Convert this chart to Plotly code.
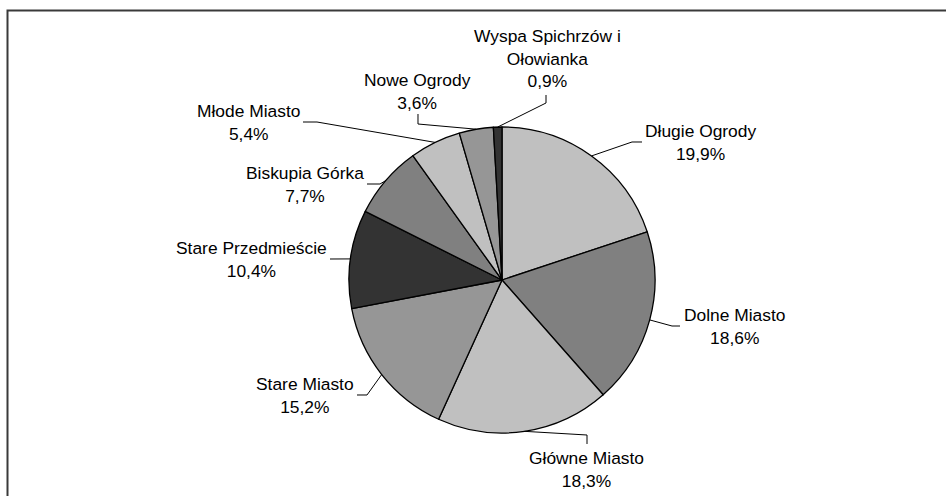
import math
import textwrap
import plotly.graph_objects as go

# ---- data ----
districts = ["Długie Ogrody", "Dolne Miasto", "Główne Miasto", "Stare Miasto",
             "Stare Przedmieście", "Biskupia Górka", "Młode Miasto", "Nowe Ogrody",
             "Wyspa Spichrzów i Ołowianka"]
shares = [19.9, 18.6, 18.3, 15.2, 10.4, 7.7, 5.4, 3.6, 0.9]
slice_colors = ["#c0c0c0", "#808080", "#c0c0c0", "#969696", "#333333",
                "#808080", "#c0c0c0", "#969696", "#333333"]

# ---- layout (pixels) ----
W, H = 946, 496
CX, CY, R = 502, 280, 153
label_centers = [(700, 142.5), (735, 326.5), (586, 469.5), (305, 395.5),
                 (251, 259), (305, 184.5), (248, 122.5), (417, 91), (547, 58.5)]
leader_bends = [[(632, 142), (642, 142)],
                [(672, 326), (680, 326)],
                [(587, 435), (587, 444)],
                [(367, 395), (357, 395)],
                [(330, 259)],
                [(380, 184), (367, 184)],
                [(317, 122), (303, 122)],
                [(418, 124), (418, 114)],
                [(546, 103), (546, 95)]]


def px(x):
    return x / W


def py(y):
    return 1 - y / H


fig = go.Figure(go.Pie(
    labels=districts, values=shares, sort=False, direction="clockwise",
    rotation=0, textinfo="none", hoverinfo="label+percent",
    marker=dict(colors=slice_colors, line=dict(color="#000000", width=1.3)),
    domain=dict(x=[px(CX - R), px(CX + R)], y=[py(CY + R), py(CY - R)]),
    showlegend=False,
))

total = sum(shares)
shapes = []
annotations = []
cum = 0.0
for name, v, (lx, ly), bends in zip(districts, shares, label_centers, leader_bends):
    mid = (cum + v / 2) / total * 2 * math.pi
    cum += v
    ex = CX + R * math.sin(mid)
    ey = CY - R * math.cos(mid)
    pts = [(ex, ey)] + bends
    path = "M " + " L ".join(f"{px(x):.5f},{py(y):.5f}" for x, y in pts)
    shapes.append(dict(type="path", xref="paper", yref="paper", path=path,
                       line=dict(color="#000000", width=1)))
    name_txt = "<br>".join(textwrap.wrap(name, 18))
    pct_txt = f"{v:.1f}%".replace(".", ",")
    annotations.append(dict(x=px(lx), y=py(ly), xref="paper", yref="paper",
                            text=f"{name_txt}<br>{pct_txt}", showarrow=False,
                            xanchor="center", yanchor="middle", align="center",
                            font=dict(size=17.4, color="#000000")))

# chart border (only left and top edges are inside the picture)
border = f"M {px(7.5):.5f},{py(505):.5f} L {px(7.5):.5f},{py(10.5):.5f} L {px(955):.5f},{py(10.5):.5f}"
shapes.append(dict(type="path", xref="paper", yref="paper", path=border,
                   line=dict(color="#3a3a3a", width=2)))

fig.update_layout(
    width=W, height=H, autosize=False,
    margin=dict(l=0, r=0, t=0, b=0),
    paper_bgcolor="#ffffff", plot_bgcolor="#ffffff",
    font=dict(family="Arial, Liberation Sans, sans-serif", size=17.4, color="#000000"),
    shapes=shapes, annotations=annotations,
)

fig.write_html(
    "out.html",
    config={"displayModeBar": False},
    post_script=("document.documentElement.style.overflow='hidden';"
                 "document.body.style.margin='0';document.body.style.overflow='hidden';"),
)
